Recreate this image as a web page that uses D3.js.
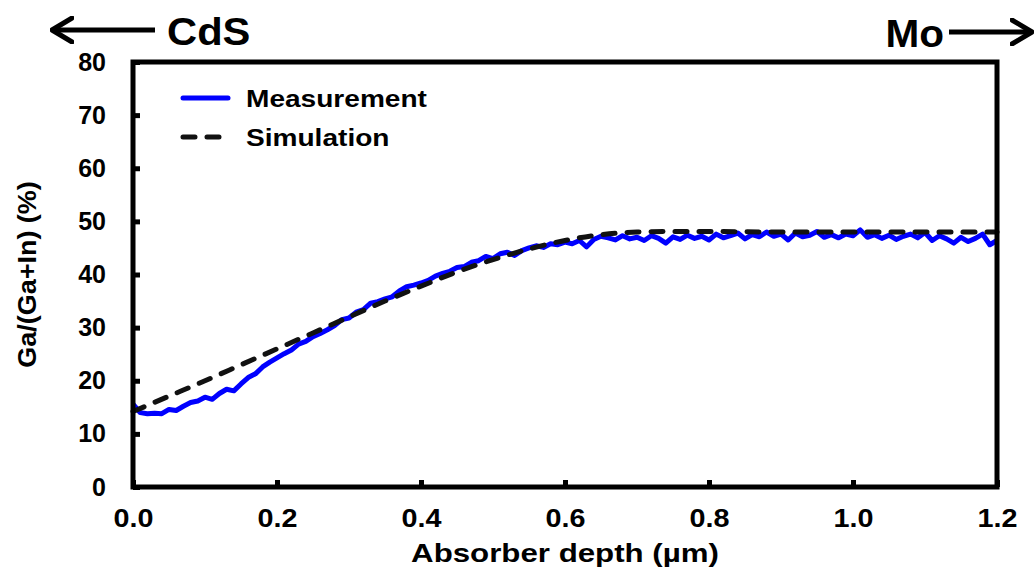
<!DOCTYPE html>
<html>
<head>
<meta charset="utf-8">
<script src="https://cdn.jsdelivr.net/npm/d3@7"></script>
<style>
  body { margin: 0; background: #fff; }
  svg text { font-family: "Liberation Sans", Arial, sans-serif; font-weight: bold; fill: #000; }
</style>
</head>
<body>
<div id="chart"></div>
<script>
// depth grid (um) shared by both series
var depth = d3.range(0, 121).map(function(i) { return +(i / 100).toFixed(2); });

var measurement = [
  15.6, 14.0, 13.8, 13.9, 13.8, 14.6, 14.4, 15.2, 15.9, 16.2,
  16.9, 16.5, 17.6, 18.4, 18.1, 19.4, 20.6, 21.3, 22.6, 23.5,
  24.3, 25.1, 25.8, 26.9, 27.4, 28.3, 28.9, 29.6, 30.4, 31.5,
  31.8, 32.9, 33.4, 34.6, 34.9, 35.4, 35.8, 36.9, 37.7, 38.0,
  38.4, 38.9, 39.7, 40.2, 40.6, 41.3, 41.5, 42.3, 42.6, 43.4,
  43.0, 43.9, 44.2, 43.6, 44.5, 45.0, 45.4, 45.1, 45.8, 45.6,
  46.1, 45.8, 46.4, 45.2, 46.6, 47.2, 46.9, 46.5, 47.3, 46.7,
  47.0, 46.4, 47.3, 46.8, 45.9, 47.1, 46.6, 47.4, 46.8, 47.2,
  46.5, 47.6, 46.9, 47.3, 47.8, 46.7, 47.5, 47.1, 48.0, 47.2,
  47.6, 46.5, 47.8, 47.1, 47.4, 48.1, 47.0, 47.5, 46.9, 47.6,
  47.3, 48.4, 47.0, 47.5, 46.8, 47.4, 46.6, 47.2, 47.6, 46.9,
  47.9, 46.4, 47.3, 46.7, 45.9, 47.0, 46.2, 46.8, 47.6, 45.6,
  46.4
];

// simulated profile
var simDepth = [0, 0.05, 0.1, 0.15, 0.2, 0.25, 0.3, 0.35, 0.4, 0.45, 0.5, 0.55, 0.6, 0.65, 0.7, 0.75, 0.8, 0.9, 1.0, 1.1, 1.2];
var simulation = [14.2, 17.1, 20.0, 23.0, 26.0, 29.0, 32.0, 35.0, 37.8, 40.5, 42.8, 44.8, 46.4, 47.5, 48.0, 48.1, 48.1, 48.0, 48.0, 48.0, 48.0];

var xTicks = [0, 0.2, 0.4, 0.6, 0.8, 1.0, 1.2];
var yTicks = [0, 10, 20, 30, 40, 50, 60, 70, 80];
var legendLabels = ["Measurement", "Simulation"];

var width = 1036, height = 572;
var margin = { top: 62, right: 39, bottom: 85, left: 133 };
var w = width - margin.left - margin.right,
  h = height - margin.top - margin.bottom;

var svg = d3.select("#chart").append("svg")
  .attr("width", width)
  .attr("height", height);

var g = svg.append("g")
  .attr("transform", "translate(" + margin.left + "," + margin.top + ")");

var x = d3.scaleLinear().domain([0, 1.2]).range([0, w]);
var y = d3.scaleLinear().domain([0, 80]).range([h, 0]);

// axes: ticks pointing inward, labels outside
var xAxis = g.append("g")
  .attr("transform", "translate(0," + h + ")")
  .call(d3.axisBottom(x).tickValues(xTicks).tickSizeInner(-7).tickSizeOuter(0).tickPadding(22)
    .tickFormat(d3.format(".1f")));
var yAxis = g.append("g")
  .call(d3.axisLeft(y).tickValues(yTicks).tickSizeInner(-7).tickSizeOuter(0).tickPadding(27));

[xAxis, yAxis].forEach(function(a) {
  a.select(".domain").remove();
  a.selectAll(".tick line").attr("stroke", "#000").attr("stroke-width", 5);
  a.selectAll(".tick text").attr("font-size", 25).attr("fill", "#000")
    .attr("font-family", "Liberation Sans, Arial, sans-serif");
});
// the source figure is a bit stretched sideways
xAxis.selectAll(".tick text").attr("transform", "scale(1.15,1)");

var lineMeas = d3.line()
  .x(function(d, i) { return x(depth[i]); })
  .y(function(d) { return y(d); });

var lineSim = d3.line()
  .x(function(d, i) { return x(simDepth[i]); })
  .y(function(d) { return y(d); })
  .curve(d3.curveMonotoneX);

g.append("path")
  .datum(measurement)
  .attr("fill", "none")
  .attr("stroke", "#0000ff")
  .attr("stroke-width", 5)
  .attr("stroke-linejoin", "round")
  .attr("d", lineMeas);

g.append("path")
  .datum(simulation)
  .attr("fill", "none")
  .attr("stroke", "#111")
  .attr("stroke-width", 5)
  .attr("stroke-linecap", "round")
  .attr("stroke-dasharray", "12,12")
  .attr("d", lineSim);

// frame
g.append("rect")
  .attr("width", w)
  .attr("height", h)
  .attr("fill", "none")
  .attr("stroke", "#000")
  .attr("stroke-width", 5);

// legend
var legend = g.append("g").attr("transform", "translate(50,36)");
legend.append("line")
  .attr("x1", 0).attr("x2", 45).attr("y1", 0).attr("y2", 0)
  .attr("stroke", "#0000ff").attr("stroke-width", 5).attr("stroke-linecap", "round");
legend.append("line")
  .attr("x1", 0).attr("x2", 45).attr("y1", 39).attr("y2", 39)
  .attr("stroke", "#111").attr("stroke-width", 5).attr("stroke-linecap", "round")
  .attr("stroke-dasharray", "12,12");
legend.selectAll("text.leg")
  .data(legendLabels)
  .enter().append("text")
  .attr("class", "leg")
  .attr("transform", function(d, i) { return "translate(63," + (i * 39 + 9) + ") scale(1.17,1)"; })
  .attr("font-size", 24)
  .text(function(d) { return d; });

// axis titles
svg.append("text")
  .attr("transform", "translate(" + (margin.left + w / 2) + ",562) scale(1.25,1)")
  .attr("text-anchor", "middle")
  .attr("font-size", 25)
  .text("Absorber depth (\u00b5m)");

svg.append("text")
  .attr("transform", "translate(36," + (margin.top + h / 2) + ") rotate(-90) scale(1.08,1)")
  .attr("text-anchor", "middle")
  .attr("font-size", 25)
  .text("Ga/(Ga+In) (%)");

// direction arrows
svg.append("defs").append("marker")
  .attr("id", "head")
  .attr("viewBox", "0 0 24 28")
  .attr("refX", 22).attr("refY", 14)
  .attr("markerWidth", 24).attr("markerHeight", 28)
  .attr("markerUnits", "userSpaceOnUse")
  .attr("orient", "auto-start-reverse")
  .append("path")
  .attr("d", "M2,2 L22,14 L2,26")
  .attr("fill", "none").attr("stroke", "#000").attr("stroke-width", 5)
  .attr("stroke-linecap", "round").attr("stroke-linejoin", "round");

svg.append("line")
  .attr("x1", 52).attr("x2", 155).attr("y1", 30).attr("y2", 30)
  .attr("stroke", "#000").attr("stroke-width", 5)
  .attr("marker-start", "url(#head)");
svg.append("text")
  .attr("transform", "translate(167,45) scale(1.07,1)")
  .attr("font-size", 39)
  .text("CdS");

svg.append("text")
  .attr("transform", "translate(944,47) scale(1.04,1)")
  .attr("text-anchor", "end")
  .attr("font-size", 39)
  .text("Mo");
svg.append("line")
  .attr("x1", 949).attr("x2", 1032).attr("y1", 32).attr("y2", 32)
  .attr("stroke", "#000").attr("stroke-width", 5)
  .attr("marker-end", "url(#head)");
</script>
</body>
</html>
